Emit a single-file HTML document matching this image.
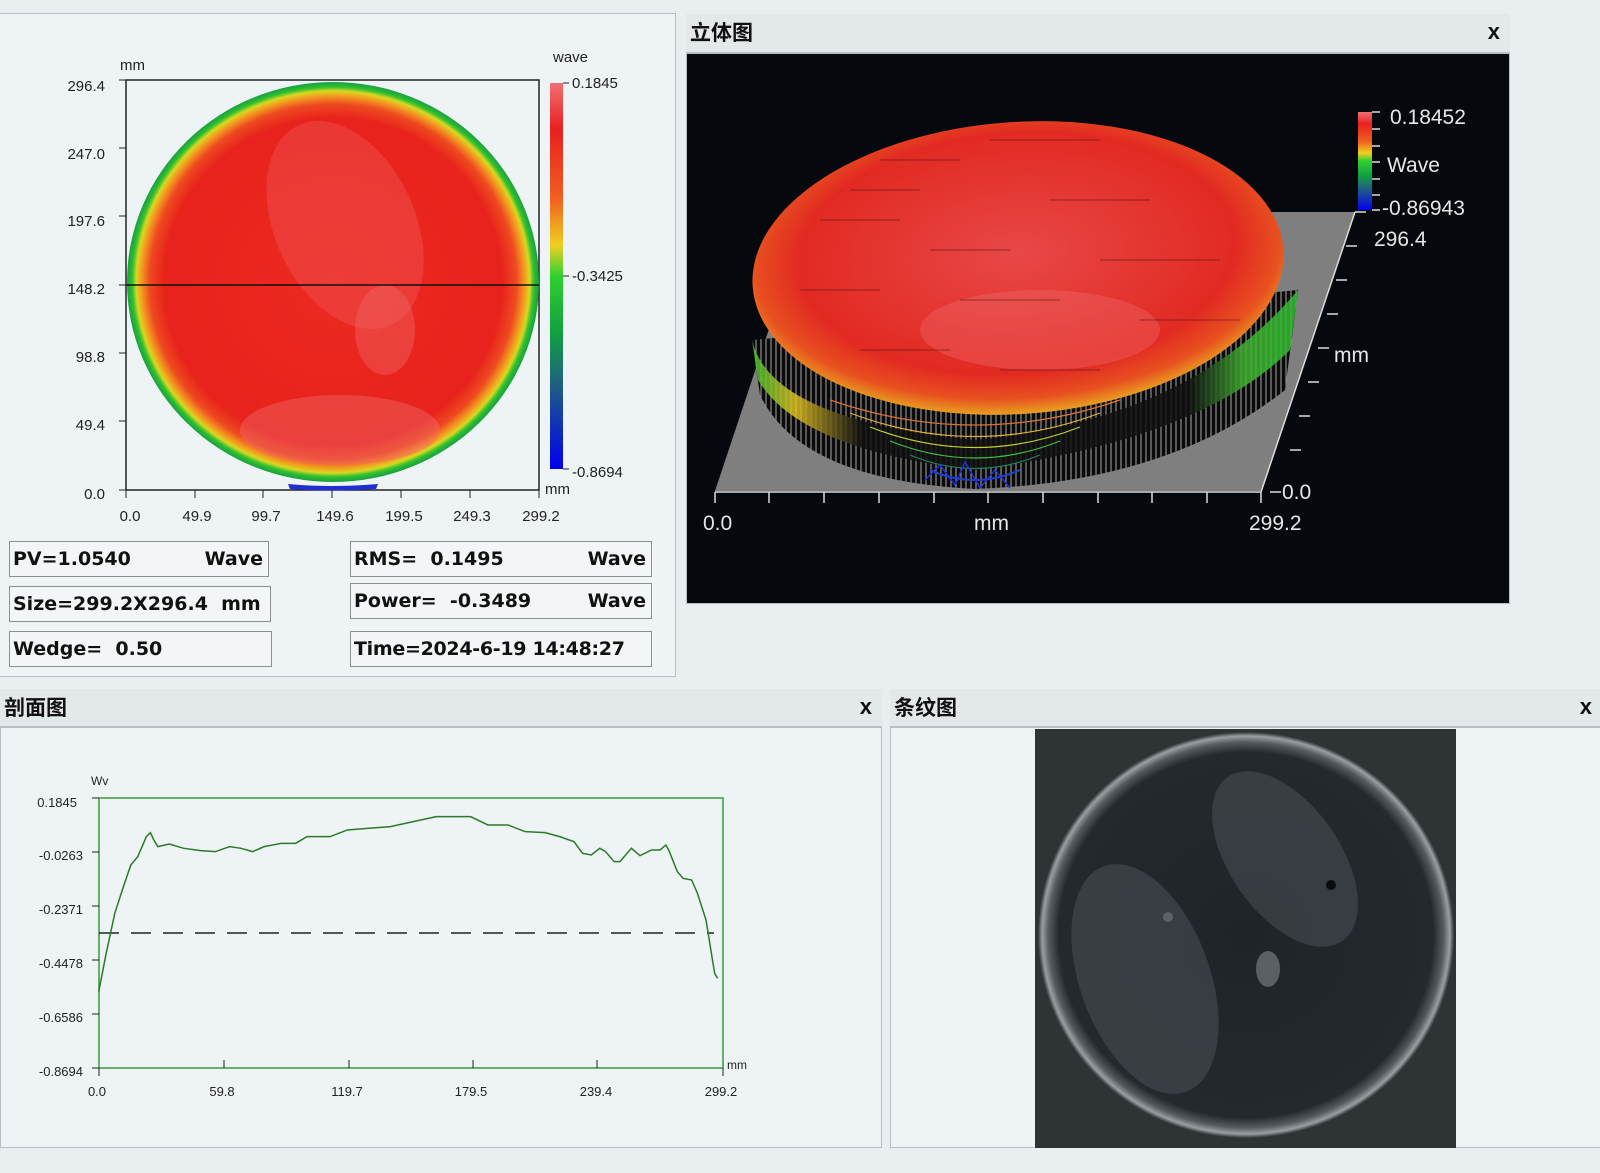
<!DOCTYPE html>
<html><head><meta charset="utf-8">
<style>
*{margin:0;padding:0;box-sizing:border-box}
body{width:1600px;height:1173px;background:#e9eff1;position:relative;overflow:hidden;font-family:"Liberation Sans","Noto Sans CJK SC",sans-serif}
.abs{position:absolute}
.panel{position:absolute;background:#eef3f5;border:1px solid #b8bec2}
.hdr{position:absolute;background:#e3e8ea;border-bottom:2px solid #b8bec2;font-family:"Noto Sans CJK SC",sans-serif;font-weight:bold;font-size:21px;line-height:36px;padding-left:4px;color:#111}
.hdr .x{position:absolute;right:10px;top:0;font-family:"Liberation Sans",sans-serif;font-size:22px}
.box{position:absolute;border:1px solid #8a8f92;background:#f2f6f7;font-family:"DejaVu Sans",sans-serif;font-weight:bold;font-size:19px;line-height:34px;padding-left:3px;color:#111}
.box span{position:absolute;right:5px;top:0}
svg text{font-family:"Liberation Sans",sans-serif}
</style></head><body>

<div class="panel" style="left:-1px;top:13px;width:677px;height:664px"></div>
<svg class="abs" style="left:0;top:0" width="680" height="680">
 <defs>
  <radialGradient id="disk" cx="0.5" cy="0.5" r="0.5">
   <stop offset="0" stop-color="#ec2a22"/>
   <stop offset="0.82" stop-color="#e8221c"/>
   <stop offset="0.89" stop-color="#ee4a20"/>
   <stop offset="0.93" stop-color="#f39a20"/>
   <stop offset="0.955" stop-color="#d9d820"/>
   <stop offset="0.975" stop-color="#30c030"/>
   <stop offset="1" stop-color="#18a040"/>
  </radialGradient>
  <linearGradient id="cbar" x1="0" y1="0" x2="0" y2="1">
   <stop offset="0" stop-color="#f07070"/>
   <stop offset="0.12" stop-color="#e82020"/>
   <stop offset="0.3" stop-color="#f06020"/>
   <stop offset="0.42" stop-color="#f0d020"/>
   <stop offset="0.5" stop-color="#30d030"/>
   <stop offset="0.65" stop-color="#10a040"/>
   <stop offset="0.78" stop-color="#206080"/>
   <stop offset="1" stop-color="#0000f0"/>
  </linearGradient>
 </defs>
 <rect x="126" y="80" width="413" height="410" fill="none" stroke="#222" stroke-width="1.5"/>
 <ellipse cx="333" cy="282" rx="206" ry="200" fill="url(#disk)"/>
 <ellipse cx="345" cy="225" rx="70" ry="110" fill="#f06060" opacity="0.35" transform="rotate(-25 345 225)"/>
 <ellipse cx="340" cy="430" rx="100" ry="35" fill="#f06868" opacity="0.45"/>
 <ellipse cx="385" cy="330" rx="30" ry="45" fill="#f06868" opacity="0.4"/>
 <path d="M288,484 Q330,488 378,484 L376,489 Q330,492 290,489Z" fill="#2030d0"/>
 <line x1="126" y1="285" x2="539" y2="285" stroke="#111" stroke-width="1.5"/>
 <g font-size="15" fill="#222" text-anchor="end">
  <text x="105" y="91">296.4</text><text x="105" y="159">247.0</text><text x="105" y="226">197.6</text>
  <text x="105" y="294">148.2</text><text x="105" y="362">98.8</text><text x="105" y="430">49.4</text><text x="105" y="499">0.0</text>
 </g>
 <g stroke="#222"><line x1="119" y1="80" x2="126" y2="80"/><line x1="119" y1="148" x2="126" y2="148"/><line x1="119" y1="216" x2="126" y2="216"/><line x1="119" y1="285" x2="126" y2="285"/><line x1="119" y1="353" x2="126" y2="353"/><line x1="119" y1="421" x2="126" y2="421"/><line x1="119" y1="490" x2="126" y2="490"/>
 <line x1="126" y1="490" x2="126" y2="498"/><line x1="195" y1="490" x2="195" y2="498"/><line x1="263" y1="490" x2="263" y2="498"/><line x1="332" y1="490" x2="332" y2="498"/><line x1="401" y1="490" x2="401" y2="498"/><line x1="470" y1="490" x2="470" y2="498"/><line x1="539" y1="490" x2="539" y2="498"/></g>
 <g font-size="15" fill="#222" text-anchor="middle">
  <text x="130" y="521">0.0</text><text x="197" y="521">49.9</text><text x="266" y="521">99.7</text><text x="335" y="521">149.6</text>
  <text x="404" y="521">199.5</text><text x="472" y="521">249.3</text><text x="541" y="521">299.2</text>
 </g>
 <text x="120" y="70" font-size="15" fill="#222">mm</text>
 <text x="545" y="494" font-size="15" fill="#222">mm</text>
 <text x="553" y="62" font-size="15" fill="#222">wave</text>
 <rect x="550" y="83" width="13" height="386" fill="url(#cbar)"/>
 <g stroke="#222"><line x1="563" y1="83" x2="569" y2="83"/><line x1="563" y1="276" x2="569" y2="276"/><line x1="563" y1="469" x2="569" y2="469"/></g>
 <g font-size="15" fill="#222"><text x="572" y="88">0.1845</text><text x="572" y="281">-0.3425</text><text x="572" y="477">-0.8694</text></g>
</svg>
<div class="box" style="left:9px;top:541px;width:260px;height:36px">PV=1.0540<span>Wave</span></div>
<div class="box" style="left:9px;top:586px;width:262px;height:36px">Size=299.2X296.4&nbsp; mm</div>
<div class="box" style="left:9px;top:631px;width:263px;height:36px">Wedge=&nbsp; 0.50</div>
<div class="box" style="left:350px;top:541px;width:302px;height:36px">RMS=&nbsp; 0.1495<span>Wave</span></div>
<div class="box" style="left:350px;top:583px;width:302px;height:36px">Power=&nbsp; -0.3489<span>Wave</span></div>
<div class="box" style="left:350px;top:631px;width:302px;height:36px;letter-spacing:-0.3px">Time=2024-6-19 14:48:27</div>

<div class="panel" style="left:686px;top:14px;width:824px;height:590px;background:#05080c"></div>
<div class="hdr" style="left:686px;top:14px;width:824px;height:40px">立体图<span class="x">x</span></div>
<svg class="abs" style="left:0;top:0" width="1600" height="620">
 <defs>
  <linearGradient id="wall" x1="0" y1="0" x2="1" y2="0">
   <stop offset="0" stop-color="#40c030"/><stop offset="0.08" stop-color="#e0c020"/><stop offset="0.2" stop-color="#101010"/>
   <stop offset="0.8" stop-color="#101010"/><stop offset="0.9" stop-color="#40b030"/><stop offset="1" stop-color="#30c030"/>
  </linearGradient>
  <radialGradient id="top3" cx="0.5" cy="0.45" r="0.55">
   <stop offset="0" stop-color="#e84848"/><stop offset="0.75" stop-color="#e22a22"/><stop offset="0.9" stop-color="#e85020"/><stop offset="1" stop-color="#e8a020"/>
  </radialGradient>
  <pattern id="vl" width="5" height="10" patternUnits="userSpaceOnUse"><rect width="5" height="10" fill="#0a0a0a"/><line x1="1" y1="0" x2="1" y2="10" stroke="#d0d0d0" stroke-width="0.8"/></pattern>
 </defs>
 <polygon points="715,491 1261,491 1355,212 808,212" fill="#7f7f7f"/>
 <path d="M752,340 L760,395 Q800,480 975,489 Q1170,482 1285,390 L1298,290 Z" fill="url(#vl)"/>
 <path d="M752,340 Q770,420 975,440 Q1190,420 1298,290 L1290,350 Q1200,440 975,470 Q800,450 758,380Z" fill="url(#wall)" opacity="0.85"/>
 <g fill="none" stroke-width="1.2">
  <path d="M830,400 Q975,450 1120,400" stroke="#e07030"/>
  <path d="M850,413 Q975,460 1100,413" stroke="#e0b030"/>
  <path d="M870,427 Q975,468 1080,427" stroke="#c0d030"/>
  <path d="M890,441 Q975,475 1060,441" stroke="#40c040"/>
  <path d="M910,455 Q975,482 1040,455" stroke="#208060"/>
  <path d="M930,470 Q975,490 1020,470" stroke="#2040d0" stroke-width="2"/>
  <path d="M925,480 L940,465 L955,485 L965,462 L980,488 L995,470 L1010,488" stroke="#2030e0" stroke-width="1.5"/>
 </g>
 <ellipse cx="1018" cy="268" rx="266" ry="146" fill="url(#top3)" transform="rotate(-4 1018 268)"/>
 <ellipse cx="1040" cy="330" rx="120" ry="40" fill="#f07070" opacity="0.35"/>
 <g stroke="#401010" stroke-width="0.8" opacity="0.7">
  <line x1="880" y1="160" x2="960" y2="160"/><line x1="990" y1="140" x2="1100" y2="140"/><line x1="820" y1="220" x2="900" y2="220"/>
  <line x1="1050" y1="200" x2="1150" y2="200"/><line x1="930" y1="250" x2="1010" y2="250"/><line x1="1100" y1="260" x2="1220" y2="260"/>
  <line x1="800" y1="290" x2="880" y2="290"/><line x1="960" y1="300" x2="1060" y2="300"/><line x1="1140" y1="320" x2="1240" y2="320"/>
  <line x1="860" y1="350" x2="950" y2="350"/><line x1="1000" y1="370" x2="1100" y2="370"/><line x1="850" y1="190" x2="920" y2="190"/>
 </g>
 <g stroke="#ddd" stroke-width="1.5">
  <line x1="715" y1="492" x2="1261" y2="492"/>
  <line x1="715" y1="492" x2="715" y2="503"/><line x1="769" y1="492" x2="769" y2="503"/><line x1="824" y1="492" x2="824" y2="503"/><line x1="879" y1="492" x2="879" y2="503"/><line x1="934" y1="492" x2="934" y2="503"/><line x1="988" y1="492" x2="988" y2="503"/><line x1="1043" y1="492" x2="1043" y2="503"/><line x1="1098" y1="492" x2="1098" y2="503"/><line x1="1152" y1="492" x2="1152" y2="503"/><line x1="1207" y1="492" x2="1207" y2="503"/><line x1="1261" y1="492" x2="1261" y2="503"/>
  <line x1="1261" y1="492" x2="1355" y2="212"/>
  <line x1="1355" y1="212" x2="1366" y2="212"/><line x1="1346" y1="246" x2="1357" y2="246"/><line x1="1336" y1="280" x2="1347" y2="280"/><line x1="1327" y1="314" x2="1338" y2="314"/><line x1="1318" y1="348" x2="1329" y2="348"/><line x1="1308" y1="382" x2="1319" y2="382"/><line x1="1299" y1="416" x2="1310" y2="416"/><line x1="1290" y1="450" x2="1301" y2="450"/><line x1="1270" y1="492" x2="1281" y2="492"/>
 </g>
 <rect x="1358" y="112" width="14" height="98" fill="url(#cbar)"/>
 <g stroke="#ddd" stroke-width="1.5"><line x1="1372" y1="112" x2="1380" y2="112"/><line x1="1372" y1="129" x2="1380" y2="129"/><line x1="1372" y1="146" x2="1380" y2="146"/><line x1="1372" y1="162" x2="1380" y2="162"/><line x1="1372" y1="179" x2="1380" y2="179"/><line x1="1372" y1="195" x2="1380" y2="195"/><line x1="1372" y1="210" x2="1380" y2="210"/></g>
 <g fill="#e6e6e6" font-size="21">
  <text x="1390" y="124">0.18452</text><text x="1387" y="172">Wave</text><text x="1382" y="215">-0.86943</text>
  <text x="1374" y="246">296.4</text><text x="1334" y="362">mm</text><text x="1282" y="499">0.0</text>
  <text x="703" y="530">0.0</text><text x="974" y="530">mm</text><text x="1249" y="530">299.2</text>
 </g>
</svg>

<div class="panel" style="left:0;top:689px;width:882px;height:459px"></div>
<div class="hdr" style="left:0;top:689px;width:882px;height:39px">剖面图<span class="x">x</span></div>
<svg class="abs" style="left:0;top:0" width="900" height="1173">
 <rect x="99" y="798" width="624" height="270" fill="none" stroke="#3a9a3a" stroke-width="1.5"/>
 <line x1="99" y1="933" x2="714" y2="933" stroke="#222" stroke-width="1.5" stroke-dasharray="20,12"/>
 <g transform="translate(0,680) scale(0.574,0.3333)">
  <polyline fill="none" stroke="#2a7a2a" stroke-width="1.5" vector-effect="non-scaling-stroke" points="172,935 185,820 200,700 215,620 228,555 240,530 255,470 262,458 268,480 275,500 295,492 320,505 350,512 375,515 400,500 420,505 440,515 460,500 490,490 515,490 535,470 575,470 605,450 640,445 680,440 720,425 760,410 820,410 850,435 885,435 915,455 950,458 975,470 1000,485 1015,520 1030,525 1045,505 1055,515 1070,545 1080,545 1100,505 1115,527 1135,510 1150,510 1160,495 1165,510 1180,575 1190,595 1205,600 1215,640 1230,720 1245,880 1250,895"/>
 </g>
 <g stroke="#222"><line x1="92" y1="798" x2="99" y2="798"/><line x1="92" y1="852" x2="99" y2="852"/><line x1="92" y1="906" x2="99" y2="906"/><line x1="92" y1="960" x2="99" y2="960"/><line x1="92" y1="1014" x2="99" y2="1014"/><line x1="92" y1="1068" x2="99" y2="1068"/>
 <line x1="99" y1="1068" x2="99" y2="1076"/><line x1="224" y1="1060" x2="224" y2="1068"/><line x1="349" y1="1060" x2="349" y2="1068"/><line x1="473" y1="1060" x2="473" y2="1068"/><line x1="597" y1="1060" x2="597" y2="1068"/><line x1="723" y1="1068" x2="723" y2="1076"/></g>
 <g font-size="13" fill="#222" text-anchor="end">
  <text x="77" y="807">0.1845</text><text x="83" y="860">-0.0263</text><text x="83" y="914">-0.2371</text><text x="83" y="968">-0.4478</text><text x="83" y="1022">-0.6586</text><text x="83" y="1076">-0.8694</text>
 </g>
 <g font-size="13" fill="#222" text-anchor="middle">
  <text x="97" y="1096">0.0</text><text x="222" y="1096">59.8</text><text x="347" y="1096">119.7</text><text x="471" y="1096">179.5</text><text x="596" y="1096">239.4</text><text x="721" y="1096">299.2</text>
 </g>
 <text x="91" y="785" font-size="12" fill="#222">Wv</text>
 <text x="727" y="1069" font-size="12" fill="#222">mm</text>
</svg>

<div class="panel" style="left:890px;top:689px;width:720px;height:459px"></div>
<div class="hdr" style="left:890px;top:689px;width:720px;height:39px">条纹图<span class="x" style="right:18px">x</span></div>
<svg class="abs" style="left:1035px;top:729px" width="421" height="419">
 <defs>
  <radialGradient id="fr" cx="0.5" cy="0.5" r="0.5">
   <stop offset="0" stop-color="#1e2428"/><stop offset="0.9" stop-color="#23292d"/><stop offset="0.95" stop-color="#555b5e"/><stop offset="0.98" stop-color="#9a9fa2"/><stop offset="1" stop-color="#303538"/>
  </radialGradient>
 </defs>
 <rect width="421" height="419" fill="#2e3336"/>
 <ellipse cx="211" cy="206" rx="208" ry="203" fill="url(#fr)"/>
 <ellipse cx="250" cy="130" rx="100" ry="55" fill="#4a5155" opacity="0.55" transform="rotate(55 250 130)"/>
 <ellipse cx="110" cy="250" rx="65" ry="120" fill="#4a5155" opacity="0.55" transform="rotate(-20 110 250)"/>
 <ellipse cx="233" cy="240" rx="12" ry="18" fill="#5a6064"/>
 <circle cx="296" cy="156" r="5" fill="#0a0c0e"/>
 <circle cx="133" cy="188" r="5" fill="#5a6064"/>
</svg>
</body></html>
